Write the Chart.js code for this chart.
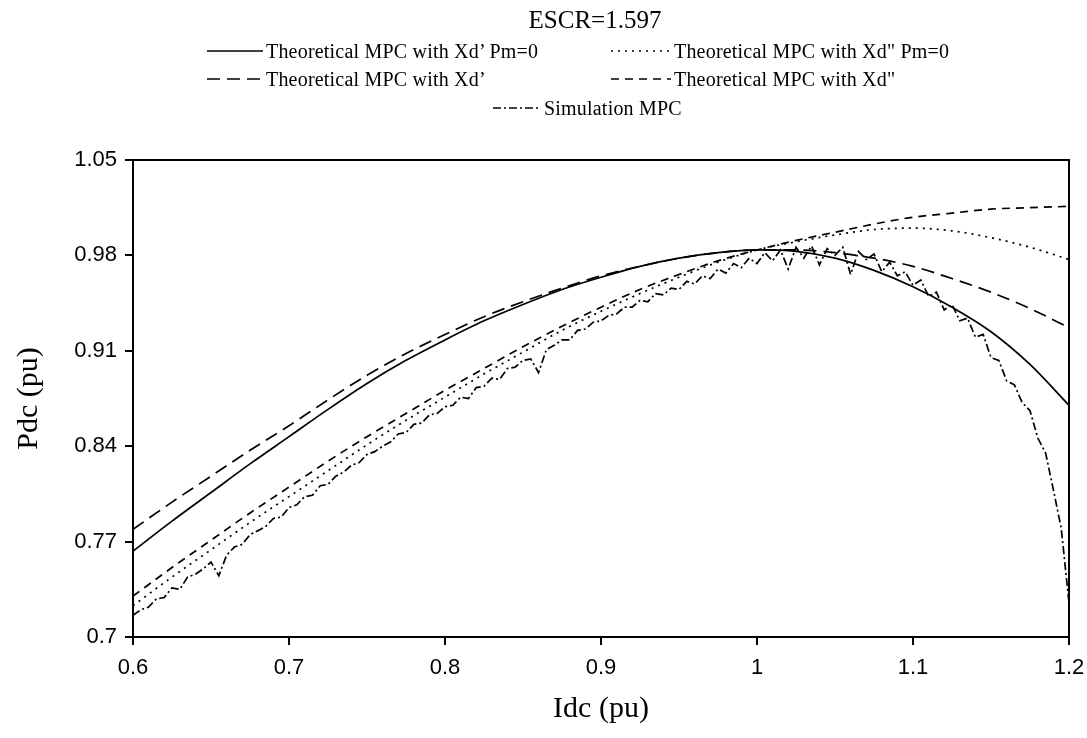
<!DOCTYPE html>
<html>
<head>
<meta charset="utf-8">
<script src="https://cdn.jsdelivr.net/npm/chart.js@4.4.1/dist/chart.umd.min.js"></script>
<style>
  body { margin: 0; background: #fff; }
  #wrap { position: relative; width: 1087px; height: 738px; }
  #chart { position: absolute; left: 0; top: 0; }
  .txt { position: absolute; font-family: "Liberation Serif", "Times New Roman", serif; color: #000; white-space: nowrap; }
  #title { font-size: 25px; left: 0; width: 1190px; top: 6px; text-align: center; }
  .item { position: absolute; height: 24px; display: flex; align-items: center; font-family: "Liberation Serif", serif; font-size: 20px; letter-spacing: 0.2px; white-space: nowrap; }
  .item svg { margin-right: 3px; }
</style>
</head>
<body>
<div id="wrap">
  <canvas id="chart" width="1087" height="738"></canvas>
  <div id="title" class="txt">ESCR=1.597</div>
  <div id="legend"></div>
</div>
<script>
// === Data ===
const idcTheory = [
  0.600, 0.625, 0.650, 0.675, 0.700, 0.725, 0.750, 0.775, 0.800, 0.825, 0.850, 0.875,
  0.900, 0.925, 0.950, 0.975, 1.000, 1.025, 1.050, 1.075, 1.100, 1.125, 1.150, 1.175, 1.200,
];
// Xd' with Pm=0 (solid)
const pXdPm0 = [
  0.763, 0.785, 0.806, 0.827, 0.847, 0.867, 0.886, 0.903, 0.918, 0.932, 0.944, 0.955,
  0.964, 0.972, 0.978, 0.982, 0.984, 0.983, 0.978, 0.969, 0.957, 0.942, 0.924, 0.900, 0.870,
];
// Xd' (long dash)
const pXd = [
  0.779, 0.799, 0.818, 0.837, 0.855, 0.874, 0.892, 0.908, 0.922, 0.935, 0.946, 0.956,
  0.965, 0.972, 0.978, 0.982, 0.984, 0.984, 0.982, 0.978, 0.972, 0.963, 0.953, 0.941, 0.927,
];
// Xd" with Pm=0 (dotted)
const pXd2Pm0 = [
  0.723, 0.744, 0.764, 0.784, 0.803, 0.822, 0.841, 0.859, 0.876, 0.893, 0.909, 0.925,
  0.939, 0.952, 0.964, 0.975, 0.984, 0.990, 0.995, 0.999, 1.000, 0.998, 0.993, 0.986, 0.977,
];
// Xd" (short dash)
const pXd2 = [
  0.730, 0.751, 0.771, 0.791, 0.810, 0.829, 0.847, 0.864, 0.881, 0.897, 0.913, 0.928,
  0.942, 0.955, 0.966, 0.976, 0.984, 0.991, 0.997, 1.003, 1.008, 1.011, 1.014, 1.015, 1.016,
];

// simulation (dash-dot, noisy)
const idcSim = [
  0.600, 0.605, 0.610, 0.615, 0.620, 0.625, 0.630, 0.635, 0.640, 0.645,
  0.650, 0.655, 0.660, 0.665, 0.670, 0.675, 0.680, 0.685, 0.690, 0.695,
  0.700, 0.705, 0.710, 0.715, 0.720, 0.725, 0.730, 0.735, 0.740, 0.745,
  0.750, 0.755, 0.760, 0.765, 0.770, 0.775, 0.780, 0.785, 0.790, 0.795,
  0.800, 0.805, 0.810, 0.815, 0.820, 0.825, 0.830, 0.835, 0.840, 0.845,
  0.850, 0.855, 0.860, 0.865, 0.870, 0.875, 0.880, 0.885, 0.890, 0.895,
  0.900, 0.905, 0.910, 0.915, 0.920, 0.925, 0.930, 0.935, 0.940, 0.945,
  0.950, 0.955, 0.960, 0.965, 0.970, 0.975, 0.980, 0.985, 0.990, 0.995,
  1.000, 1.005, 1.010, 1.015, 1.020, 1.025, 1.030, 1.035, 1.040, 1.045,
  1.050, 1.055, 1.060, 1.065, 1.070, 1.075, 1.080, 1.085, 1.090, 1.095,
  1.100, 1.105, 1.110, 1.115, 1.120, 1.125, 1.130, 1.135, 1.140, 1.145,
  1.150, 1.155, 1.160, 1.165, 1.170, 1.175, 1.180, 1.185, 1.190, 1.195, 1.200,
];
const pSim = [
  0.716, 0.720, 0.722, 0.728, 0.729, 0.736, 0.735, 0.744, 0.746, 0.750,
  0.755, 0.745, 0.760, 0.766, 0.768, 0.775, 0.778, 0.781, 0.787, 0.788,
  0.795, 0.797, 0.803, 0.804, 0.811, 0.812, 0.818, 0.821, 0.826, 0.828,
  0.834, 0.836, 0.840, 0.843, 0.849, 0.850, 0.856, 0.857, 0.863, 0.864,
  0.869, 0.870, 0.876, 0.875, 0.883, 0.884, 0.890, 0.889, 0.897, 0.898,
  0.903, 0.904, 0.894, 0.911, 0.914, 0.918, 0.918, 0.925, 0.926, 0.931,
  0.932, 0.936, 0.937, 0.942, 0.942, 0.947, 0.946, 0.952, 0.951, 0.956,
  0.955, 0.961, 0.959, 0.965, 0.963, 0.970, 0.967, 0.974, 0.971, 0.978,
  0.974, 0.982, 0.976, 0.984, 0.970, 0.986, 0.978, 0.987, 0.973, 0.985,
  0.980, 0.986, 0.966, 0.983, 0.977, 0.981, 0.968, 0.975, 0.965, 0.968,
  0.958, 0.962, 0.950, 0.953, 0.940, 0.944, 0.932, 0.934, 0.920, 0.922,
  0.905, 0.903, 0.888, 0.885, 0.872, 0.866, 0.846, 0.835, 0.808, 0.780, 0.725,
];

const xTickVals = [0.6, 0.7, 0.8, 0.9, 1.0, 1.1, 1.2];
const xTickLabels = ["0.6", "0.7", "0.8", "0.9", "1", "1.1", "1.2"];
const yTickVals = [0.7, 0.77, 0.84, 0.91, 0.98, 1.05];
const yTickLabels = ["0.7", "0.77", "0.84", "0.91", "0.98", "1.05"];

const seriesLabels = [
  "Theoretical MPC with Xd\u2019 Pm=0",
  "Theoretical MPC with Xd\" Pm=0",
  "Theoretical MPC with Xd\u2019",
  "Theoretical MPC with Xd\"",
  "Simulation MPC",
];

// === Styles ===
const dashes = [[], [2, 5], [13, 7], [8, 6], [8, 3, 2, 3]];
const lineW = 1.7;

const pts = (xs, ys) => xs.map((x, i) => ({ x, y: ys[i] }));

function makeDataset(label, data, dash, smooth) {
  return {
    label, data,
    borderColor: "#000",
    borderWidth: lineW,
    borderDash: dash,
    pointRadius: 0,
    fill: false,
    tension: smooth ? 0.4 : 0,
    cubicInterpolationMode: smooth ? "monotone" : "default",
  };
}

const datasets = [
  makeDataset(seriesLabels[0], pts(idcTheory, pXdPm0), dashes[0], true),
  makeDataset(seriesLabels[1], pts(idcTheory, pXd2Pm0), dashes[1], true),
  makeDataset(seriesLabels[2], pts(idcTheory, pXd), dashes[2], true),
  makeDataset(seriesLabels[3], pts(idcTheory, pXd2), dashes[3], true),
  makeDataset(seriesLabels[4], pts(idcSim, pSim), dashes[4], false),
];

// frame on top and right side of the plot
const framePlugin = {
  id: "frame",
  afterDraw(chart) {
    const { ctx, chartArea: a } = chart;
    ctx.save();
    ctx.strokeStyle = "#000";
    ctx.lineWidth = 2;
    ctx.strokeRect(a.left, a.top, a.right - a.left, a.bottom - a.top);
    ctx.restore();
  },
};

const tickFont = { family: "'Liberation Sans', Arial, sans-serif", size: 22 };
const titleFont = { family: "'Liberation Serif', 'Times New Roman', serif", size: 30 };

new Chart(document.getElementById("chart"), {
  type: "line",
  data: { datasets },
  options: {
    responsive: false,
    animation: false,
    layout: { padding: { top: 160, right: 18, left: 0, bottom: 0 } },
    plugins: { legend: { display: false }, tooltip: { enabled: false } },
    scales: {
      x: {
        type: "linear",
        min: 0.6, max: 1.2,
        afterBuildTicks: (s) => { s.ticks = xTickVals.map((v) => ({ value: v })); },
        afterFit: (s) => { s.height = 101; s.paddingLeft = 0; s.paddingRight = 0; },
        ticks: { autoSkip: false, maxRotation: 0, color: "#000", font: tickFont, padding: 10,
          callback: (v, i) => xTickLabels[i] },
        grid: { drawOnChartArea: false, color: "#000", tickLength: 8, lineWidth: 2 },
        border: { color: "#000", width: 2 },
        title: { display: true, text: "Idc (pu)", color: "#000", font: titleFont, padding: { bottom: 11 } },
      },
      y: {
        type: "linear",
        min: 0.7, max: 1.05,
        afterBuildTicks: (s) => { s.ticks = yTickVals.map((v) => ({ value: v })); },
        afterFit: (s) => { s.width = 133; s.paddingTop = 0; s.paddingBottom = 0; },
        ticks: { autoSkip: false, color: "#000", font: tickFont, padding: 8,
          callback: (v, i) => yTickLabels[i] },
        grid: { drawOnChartArea: false, color: "#000", tickLength: 8, lineWidth: 2 },
        border: { color: "#000", width: 2 },
        title: { display: true, text: "Pdc (pu)", color: "#000", font: titleFont, padding: { top: 11 } },
      },
    },
  },
  plugins: [framePlugin],
});

// === Legend (html) ===
const legendPos = [
  { x: 207, y: 51, w: 56 },
  { x: 611, y: 51, w: 60 },
  { x: 207, y: 79, w: 56 },
  { x: 611, y: 79, w: 60 },
  { x: 493, y: 108, w: 48 },
];
const legend = document.getElementById("legend");
legend.innerHTML = seriesLabels
  .map((label, i) => {
    const p = legendPos[i];
    const dash = dashes[i].length ? `stroke-dasharray="${dashes[i].join(" ")}"` : "";
    return `<div class="item" style="left:${p.x}px;top:${p.y - 12}px">
      <svg width="${p.w}" height="6"><line x1="0" y1="3" x2="${p.w}" y2="3" stroke="#000" stroke-width="1.4" ${dash}/></svg>
      <span>${label}</span></div>`;
  })
  .join("");
</script>
</body>
</html>
